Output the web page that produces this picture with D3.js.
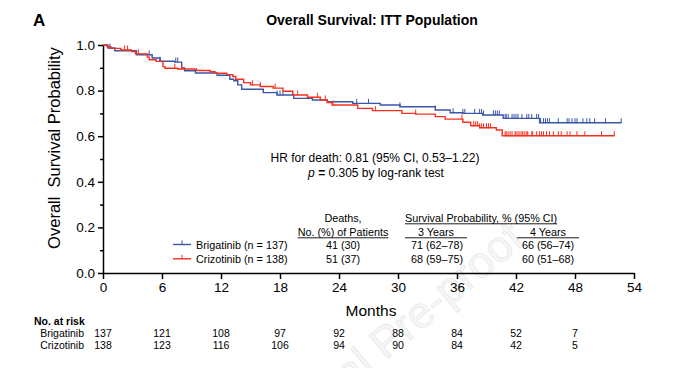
<!DOCTYPE html>
<html>
<head>
<meta charset="utf-8">
<script src="https://cdn.jsdelivr.net/npm/d3@7"></script>
<style>
  html, body { margin: 0; padding: 0; background: #fff; }
  svg { display: block; font-family: "Liberation Sans", Arial, Helvetica, sans-serif; }
</style>
</head>
<body>
<svg id="chart" width="675" height="368"></svg>
<script>
// ---------------- DATA ----------------
const xTicks = [0, 6, 12, 18, 24, 30, 36, 42, 48, 54];
const yTicks = [0.0, 0.2, 0.4, 0.6, 0.8, 1.0];
const yMinorTicks = [0.1, 0.3, 0.5, 0.7, 0.9];

// Kaplan–Meier steps: [month, survival after the step]
const brigatinibSteps = [
  [0, 1.000], [0.5, 0.987], [1.2, 0.975], [3.4, 0.957], [5.0, 0.943], [5.8, 0.929],
  [7.3, 0.925], [8.0, 0.899], [8.3, 0.887], [9.4, 0.877], [11.6, 0.867], [12.9, 0.850],
  [13.3, 0.843], [13.7, 0.825], [14.1, 0.806], [16.3, 0.791], [17.7, 0.781], [19.4, 0.766],
  [21.3, 0.759], [22.8, 0.751], [25.4, 0.744], [28.2, 0.737], [30.2, 0.729], [33.8, 0.715],
  [35.3, 0.703], [36.6, 0.700], [38.6, 0.693], [40.7, 0.678], [44.4, 0.659]
];
const brigatinibEnd = 52.7;
const crizotinibSteps = [
  [0, 1.000], [0.4, 0.993], [0.8, 0.985], [1.8, 0.978], [2.9, 0.971], [3.3, 0.961],
  [4.5, 0.947], [4.7, 0.935], [5.4, 0.928], [6.1, 0.905], [6.3, 0.898], [7.6, 0.895],
  [9.5, 0.888], [10.9, 0.883], [11.4, 0.876], [12.6, 0.870], [13.2, 0.862], [13.5, 0.850],
  [14.3, 0.835], [15.0, 0.825], [16.0, 0.818], [17.3, 0.811], [18.3, 0.797], [19.3, 0.781],
  [20.8, 0.771], [22.1, 0.759], [22.8, 0.748], [23.3, 0.737], [25.9, 0.722], [27.4, 0.712],
  [30.4, 0.700], [31.8, 0.697], [33.8, 0.686], [34.8, 0.675], [36.6, 0.661], [37.4, 0.646],
  [38.3, 0.637], [40.0, 0.627], [40.6, 0.602]
];
const crizotinibEnd = 52.0;

// censored observations (months)
const brigatinibCensor = [0.7, 4.7, 5.8, 7.4, 7.6, 17.7, 18.0, 18.3, 25.8, 27.0, 30.2, 33.8,
  35.6, 36.6, 36.8, 37.8, 38.3, 38.5, 38.7, 39.7, 39.9, 40.1, 40.3, 40.9, 41.0, 41.2, 41.6,
  41.8, 42.0, 42.2, 42.6, 43.1, 43.3, 43.6, 44.1, 44.3, 44.5, 44.8, 45.0, 45.2, 45.4, 46.3,
  47.2, 47.4, 47.7, 48.0, 48.2, 48.8, 49.2, 49.5, 50.0, 51.1, 52.7];
const crizotinibCensor = [2.2, 2.5, 3.6, 7.3, 8.0, 15.2, 16.0, 17.5, 19.8, 21.8, 22.6, 23.4,
  27.7, 31.8, 36.5, 37.7, 37.9, 38.1, 38.3, 38.5, 38.7, 39.0, 39.2, 39.4, 40.9, 41.0, 41.2,
  41.4, 41.6, 41.9, 42.0, 42.2, 42.4, 42.6, 42.7, 42.9, 43.1, 43.2, 43.6, 43.7, 44.1, 44.4,
  44.6, 44.8, 45.1, 45.4, 45.8, 46.3, 46.6, 47.2, 47.5, 48.2, 49.0, 50.7, 52.0];

const seriesNames = ["Brigatinib (n = 137)", "Crizotinib (n = 138)"];
const deathsText = ["41 (30)", "51 (37)"];
const surv3yText = ["71 (62–78)", "68 (59–75)"];
const surv4yText = ["66 (56–74)", "60 (51–68)"];

const riskNames = ["Brigatinib", "Crizotinib"];
const riskTimes = [0, 6, 12, 18, 24, 30, 36, 42, 48];
const brigatinibAtRisk = [137, 121, 108, 97, 92, 88, 84, 52, 7];
const crizotinibAtRisk = [138, 123, 116, 106, 94, 90, 84, 42, 5];

// ---------------- LAYOUT ----------------
const svg = d3.select("#chart");
const blue = "#3b56a6", red = "#f5301e";
const x = d3.scaleLinear().domain([0, 54]).range([103, 634]);
const y = d3.scaleLinear().domain([0, 1]).range([273, 45]);

// watermark (partly off the page, as in the source)
svg.append("text")
  .attr("transform", "translate(526,243) rotate(-40)")
  .attr("text-anchor", "end")
  .attr("font-size", 44)
  .attr("fill", "#f6f6f6")
  .attr("stroke", "#e6e6e6")
  .attr("stroke-width", 0.6)
  .text("Journal Pre-proof");

// panel letter & title
svg.append("text").attr("x", 33).attr("y", 26).attr("font-size", 17).attr("font-weight", "bold").text("A");
svg.append("text").attr("x", 372).attr("y", 25).attr("text-anchor", "middle")
  .attr("font-size", 14).attr("font-weight", "bold").text("Overall Survival: ITT Population");

// axes
const gx = svg.append("g").attr("transform", "translate(0,273)")
  .call(d3.axisBottom(x).tickValues(xTicks).tickFormat(d3.format("d")).tickSize(6).tickSizeOuter(0).tickPadding(3));
const gy = svg.append("g").attr("transform", "translate(103,0)")
  .call(d3.axisLeft(y).tickValues(yTicks).tickFormat(d3.format(".1f")).tickSize(5).tickSizeOuter(0).tickPadding(3));
const gym = svg.append("g").attr("transform", "translate(103,0)")
  .call(d3.axisLeft(y).tickValues(yMinorTicks).tickFormat("").tickSize(3).tickSizeOuter(0));
gym.select(".domain").remove();
[gx, gy, gym].forEach(g => {
  g.selectAll("path, line").attr("stroke", "#000").attr("stroke-width", 1.5);
  g.selectAll("text").attr("font-size", 13.5).attr("fill", "#000")
    .attr("font-family", "'Liberation Sans', Arial, sans-serif");
});

// axis titles
svg.append("text").attr("x", 371).attr("y", 316).attr("text-anchor", "middle")
  .attr("font-size", 15.5).text("Months");
svg.append("text").attr("transform", "translate(60,148) rotate(-90)").attr("text-anchor", "middle")
  .attr("font-size", 16.5).style("white-space", "pre").text("Overall  Survival Probability");

// KM curves
function stepPoints(steps, end) { return steps.concat([[end, steps[steps.length - 1][1]]]); }
function survAt(steps, t) {
  let s = 1;
  for (const [tt, v] of steps) { if (tt <= t) s = v; }
  return s;
}
const line = d3.line().x(d => x(d[0])).y(d => y(d[1])).curve(d3.curveStepAfter);
const series = [
  { steps: brigatinibSteps, end: brigatinibEnd, censor: brigatinibCensor, color: blue },
  { steps: crizotinibSteps, end: crizotinibEnd, censor: crizotinibCensor, color: red }
];
series.forEach(s => {
  svg.append("path").datum(stepPoints(s.steps, s.end))
    .attr("d", line).attr("fill", "none").attr("stroke", s.color).attr("stroke-width", 1.4);
  svg.append("g").selectAll("line").data(s.censor).join("line")
    .attr("x1", d => x(d)).attr("x2", d => x(d))
    .attr("y1", d => y(survAt(s.steps, d)) - 4.5)
    .attr("y2", d => y(survAt(s.steps, d)) + 0.5)
    .attr("stroke", s.color).attr("stroke-width", 1);
});

// HR text
svg.append("text").attr("x", 375).attr("y", 161.5).attr("text-anchor", "middle").attr("font-size", 12)
  .text("HR for death: 0.81 (95% CI, 0.53–1.22)");
const pt = svg.append("text").attr("x", 376).attr("y", 176.5).attr("text-anchor", "middle").attr("font-size", 12);
pt.append("tspan").attr("font-style", "italic").text("p");
pt.append("tspan").text(" ");
pt.append("tspan").attr("font-weight", "bold").text("=");
pt.append("tspan").text(" 0.305 by log-rank test");

// table
const fs = 10.8;
const colDeaths = 343, col3 = 436, col4 = 548, survLeft = 405;
svg.append("text").attr("x", colDeaths).attr("y", 222).attr("text-anchor", "middle").attr("font-size", fs).text("Deaths,");
const hdrDeaths = svg.append("text").attr("x", colDeaths).attr("y", 236).attr("text-anchor", "middle").attr("font-size", fs).text("No. (%) of Patients");
const hdrSurv = svg.append("text").attr("x", survLeft).attr("y", 222).attr("font-size", fs).text("Survival Probability, % (95% CI)");
svg.append("text").attr("x", col3).attr("y", 236).attr("text-anchor", "middle").attr("font-size", fs).text("3 Years");
svg.append("text").attr("x", col4).attr("y", 236).attr("text-anchor", "middle").attr("font-size", fs).text("4 Years");
function underline(x1, x2, yy) {
  svg.append("line").attr("x1", x1).attr("x2", x2).attr("y1", yy).attr("y2", yy)
    .attr("stroke", "#000").attr("stroke-width", 0.9);
}
const wD = hdrDeaths.node().getComputedTextLength();
underline(colDeaths - wD / 2, colDeaths + wD / 2, 237.8);
underline(survLeft, survLeft + hdrSurv.node().getComputedTextLength(), 223.8);
underline(col3 - 31, col3 + 31, 237.8);
underline(col4 - 31, col4 + 31, 237.8);

const rowY = [244.5, 258.8];
series.forEach((s, i) => {
  const yy = rowY[i];
  svg.append("line").attr("x1", 173).attr("x2", 191).attr("y1", yy).attr("y2", yy).attr("stroke", s.color).attr("stroke-width", 1.4);
  svg.append("line").attr("x1", 182).attr("x2", 182).attr("y1", yy - 4).attr("y2", yy).attr("stroke", s.color).attr("stroke-width", 1);
  svg.append("text").attr("x", 196).attr("y", yy + 4).attr("font-size", fs).text(seriesNames[i]);
  svg.append("text").attr("x", colDeaths).attr("y", yy + 4).attr("text-anchor", "middle").attr("font-size", fs).text(deathsText[i]);
  svg.append("text").attr("x", col3 + 1).attr("y", yy + 4).attr("text-anchor", "middle").attr("font-size", fs).text(surv3yText[i]);
  svg.append("text").attr("x", col4).attr("y", yy + 4).attr("text-anchor", "middle").attr("font-size", fs).text(surv4yText[i]);
});

// number at risk
svg.append("text").attr("x", 34).attr("y", 325).attr("font-size", 10.5).attr("font-weight", "bold").text("No. at risk");
const riskRows = [brigatinibAtRisk, crizotinibAtRisk];
const riskY = [337, 349];
riskRows.forEach((vals, i) => {
  svg.append("text").attr("x", 84).attr("y", riskY[i]).attr("text-anchor", "end").attr("font-size", 10.5).text(riskNames[i]);
  svg.append("g").selectAll("text").data(vals).join("text")
    .attr("x", (d, j) => x(riskTimes[j])).attr("y", riskY[i])
    .attr("text-anchor", "middle").attr("font-size", 10.5).text(d => d);
});
</script>
</body>
</html>
